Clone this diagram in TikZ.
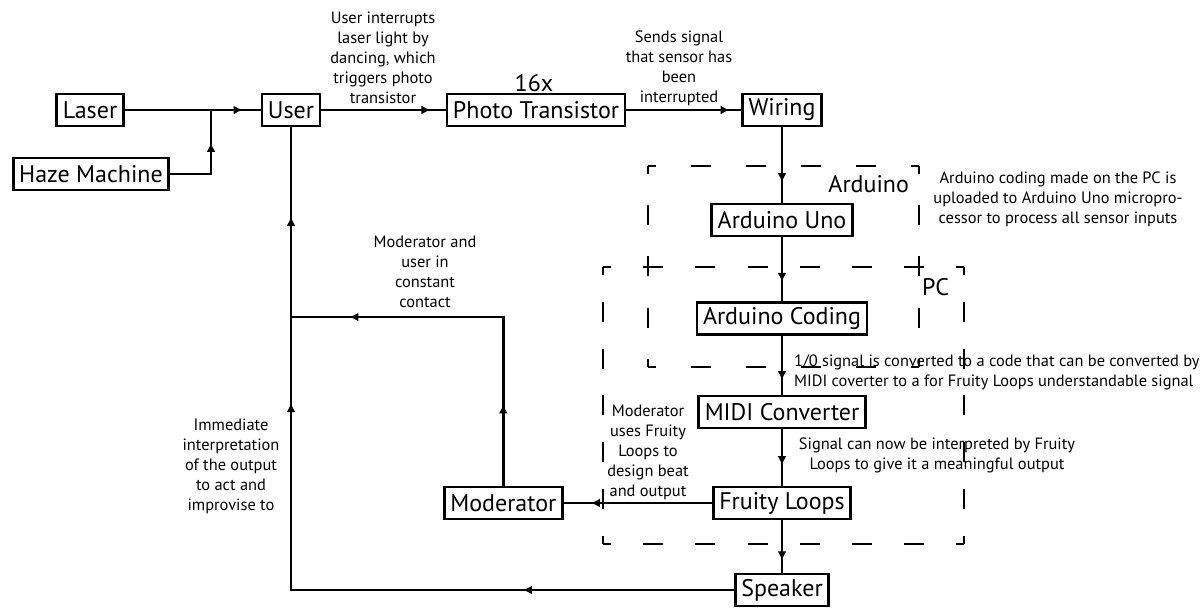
\documentclass[tikz,border=0pt]{standalone}
\usepackage{fontspec}
\setmainfont{PT Sans}
\usepackage{tikz}
\usetikzlibrary{positioning, arrows.meta, decorations.markings}
\tikzset{
    box/.style={draw, line width=1.4pt, outer sep=0pt, minimum height=16pt, inner xsep=3pt, inner ysep=1pt, font=\fontsize{12}{12}\selectfont}, % the blocks
    wire/.style={line width=1.4pt}, % the lines between the blocks
    midtip/.style={postaction={decorate, decoration={markings, mark=at position #1 with {\arrow{Latex[length=4.5pt, width=4.5pt]}}}}}, % arrow head somewhere on the line
    note/.style={align=center, font=\fontsize{8.2}{10}\selectfont}, % small explaining text
    tag/.style={font=\fontsize{12}{12}\selectfont}, % names of the dashed areas
    zone/.style={line width=1.1pt, dash pattern=on 10pt off #1, dash phase=6pt}, % dashed area side, #1 is the gap
}

\begin{document}
\begin{tikzpicture}[x=0.5pt, y=-0.5pt]
    \useasboundingbox (0,0) rectangle (1200,607);
    % dashed areas
    \coordinate (ard nw) at (648,166);
    \coordinate (ard ne) at (919,166);
    \coordinate (ard se) at (919,367);
    \coordinate (ard sw) at (648,367);
    \coordinate (pc nw) at (603,267);
    \coordinate (pc ne) at (964,267);
    \coordinate (pc se) at (964,544);
    \coordinate (pc sw) at (603,544);
    \draw[zone=17.5pt] (ard nw) -- (ard ne);
    \draw[zone=17.5pt] (ard sw) -- (ard se);
    \draw[zone=15.6pt] (ard nw) -- (ard sw);
    \draw[zone=15.6pt] (ard ne) -- (ard se);
    \draw[zone=16.1pt] (pc nw) -- (pc ne);
    \draw[zone=16.1pt] (pc sw) -- (pc se);
    \draw[zone=13.4pt] (pc nw) -- (pc sw);
    \draw[zone=13.4pt] (pc ne) -- (pc se);
    % blocks
    \node[box] (laser) at (90,110) {Laser};
    \node[box] (haze) at (91,174) {Haze Machine};
    \node[box] (user) at (291,110) {User};
    \node[box] (photo) at (536,110) {Photo Transistor};
    \node[box] (wiring) at (782,110) {Wiring};
    \node[box, below=39pt of wiring] (uno) {Arduino Uno};
    \node[box, below=33.25pt of uno] (coding) {Arduino Coding};
    \node[box, below=30.75pt of coding] (midi) {MIDI Converter};
    \node[box, below=29.5pt of midi] (fruity) {Fruity Loops};
    \node[box, below=27.5pt of fruity] (speaker) {Speaker};
    \node[box, left=75.5pt of fruity] (moderator) {Moderator};
    \node[tag, anchor=base] (count) at (534,91) {16x};
    \node[tag, anchor=base east] (ard tag) at (916,192) {Arduino};
    \node[tag, anchor=base east] (pc tag) at (956,295) {PC};
    % connectors
    \coordinate (join) at (211,110);
    \coordinate (link) at (291,317);
    \draw[wire, midtip=.86] (laser) -- (user);
    \draw[wire, midtip=.69] (haze) -| (join);
    \draw[wire, midtip=.87] (user) -- (photo);
    \draw[wire, midtip=.89] (photo) -- (wiring);
    \draw[wire, midtip=.72] (wiring) -- (uno);
    \draw[wire, midtip=.69] (uno) -- (coding);
    \draw[wire, midtip=.74] (coding) -- (midi);
    \draw[wire, midtip=.63] (midi) -- (fruity);
    \draw[wire, midtip=.75] (fruity) -- (speaker);
    \draw[wire, midtip=.81] (fruity) -- (moderator);
    \draw[wire, midtip=.216, midtip=.847] (moderator) |- (link);
    \draw[wire, midtip=.296, midtip=.88] (speaker) -| (link);
    \draw[wire, midtip=.524] (link) -- (user);
    % notes
    \node[note] (note user) at (383,58) {User interrupts\\laser light by\\dancing, which\\triggers photo\\transistor};
    \node[note] (note sends) at (679,68) {Sends signal\\that sensor has\\been\\interrupted};
    \node[note] (note upload) at (1058,199) {Arduino coding made on the PC is\\uploaded to Arduino Uno micropro-\\cessor to process all sensor inputs};
    \node[note] (note contact) at (425,272) {Moderator and\\user in\\constant\\contact};
    \node[note] (note immediate) at (231,466) {Immediate\\interpretation\\of the output\\to act and\\improvise to};
    \node[note] (note design) at (648,452) {Moderator\\uses Fruity\\Loops to\\design beat\\and output};
    \node[note, anchor=west, align=left] (note midi) at (787,372) {1/0 signal is converted to a code that can be converted by\\MIDI coverter to a for Fruity Loops understandable signal};
    \node[note] (note signal) at (937,455) {Signal can now be interpreted by Fruity\\Loops to give it a meaningful output};
\end{tikzpicture}
\end{document}
